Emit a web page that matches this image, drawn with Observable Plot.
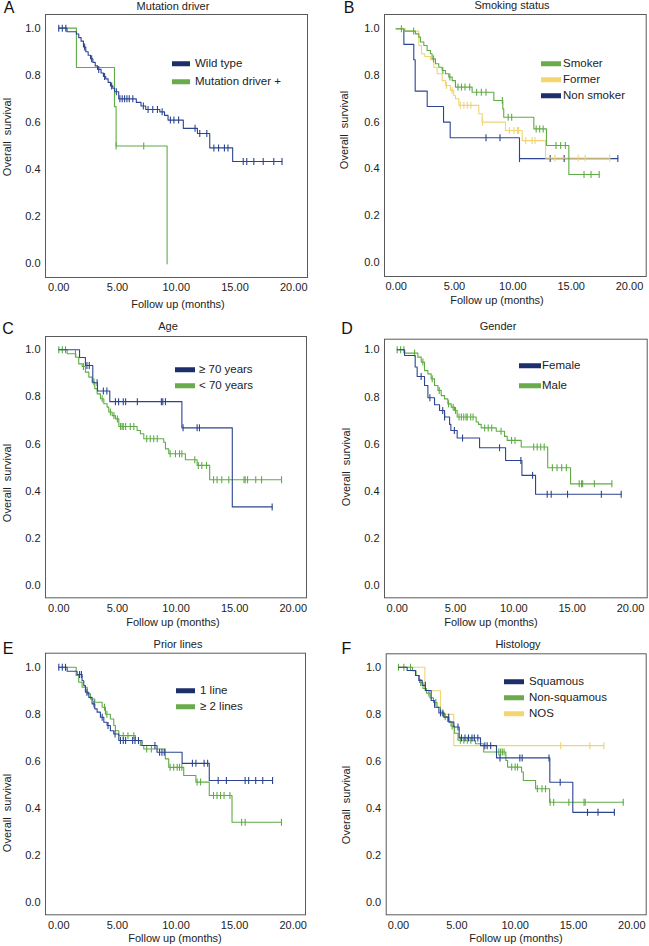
<!DOCTYPE html>
<html><head><meta charset="utf-8">
<script src="https://cdn.jsdelivr.net/npm/d3@7"></script>
<script src="https://cdn.jsdelivr.net/npm/@observablehq/plot@0.6"></script>
<style>
body{margin:0;background:#fff;}
#page{position:relative;width:649px;height:946px;overflow:hidden;font-family:"Liberation Sans",Arial,sans-serif;color:#222;background:#fff;}
.panel{position:absolute;}
.panel svg{position:absolute;left:0;top:0;}
.t{position:absolute;transform:translate(-50%,-50%);white-space:pre;line-height:1;font-size:11px;color:#222;}
.yl{transform:translate(-50%,-50%) rotate(-90deg);}
.letter{font-size:16px;color:#111;}
.leg{position:absolute;display:flex;align-items:center;white-space:pre;font-size:11.5px;line-height:1;transform:translateY(-50%);color:#222;}
.sw{display:inline-block;height:5px;}
</style></head><body><div id="page"></div>
<script>
// ---------- Tick labels ----------
const xTicks = [0, 5, 10, 15, 20];
const yTicks = [0, 0.2, 0.4, 0.6, 0.8, 1.0];

// ---------- A: Mutation driver ----------
const aWildT = [0, 0.7, 1.5, 1.7, 1.9, 2.1, 2.3, 2.5, 2.7, 2.9, 3.1, 3.3, 3.6, 3.8, 4.0, 4.2, 4.4, 4.6, 4.75, 5.1, 6.6, 7.0, 7.4, 8.6, 9.0, 9.3, 10.6, 11.8, 12.85, 14.8, 19.0];
const aWildS = [1, 0.985, 0.975, 0.96, 0.945, 0.92, 0.9, 0.885, 0.87, 0.855, 0.84, 0.825, 0.81, 0.795, 0.785, 0.77, 0.755, 0.745, 0.73, 0.70, 0.685, 0.67, 0.655, 0.645, 0.63, 0.61, 0.575, 0.553, 0.492, 0.434, 0.434];
const aWildCens = [0, 0.3, 0.6, 2.2, 2.8, 3.4, 3.9, 4.5, 4.9, 5.2, 5.4, 5.6, 5.8, 6.0, 6.3, 7.2, 7.6, 8.0, 8.4, 8.8, 9.5, 9.8, 10.2, 11.6, 12.0, 12.6, 13.2, 13.6, 14.1, 14.4, 15.7, 16.0, 16.6, 17.4, 18.3, 19.0];
const aMutT = [0, 1.5, 4.74, 4.88, 9.22];
const aMutS = [1, 0.833, 0.667, 0.5, 0];
const aMutCens = [4.88, 7.23];

// ---------- B: Smoking status ----------
const bSmokT = [0, 0.66, 1.65, 1.94, 2.08, 2.37, 2.65, 2.94, 3.08, 3.37, 3.65, 3.94, 4.23, 4.51, 4.8, 5.08, 6.51, 8.37, 9.14, 9.22, 11.8, 12.88, 14.8, 17.4];
const bSmokS = [1, 0.99, 0.978, 0.964, 0.943, 0.928, 0.907, 0.893, 0.871, 0.85, 0.835, 0.821, 0.807, 0.793, 0.778, 0.75, 0.728, 0.693, 0.657, 0.621, 0.571, 0.50, 0.376, 0.376];
const bSmokCens = [0.45, 1.5, 3.2, 4.0, 4.6, 5.3, 5.6, 5.9, 6.3, 6.9, 7.3, 7.7, 9.1, 9.6, 9.9, 12.0, 12.3, 12.6, 13.7, 14.1, 14.5, 16.1, 16.7, 17.4];
const bFormT = [0, 0.8, 1.94, 2.17, 2.45, 2.94, 3.23, 3.51, 3.94, 4.23, 4.65, 4.94, 5.08, 5.37, 7.08, 7.37, 9.37, 10.8, 12.8, 18.3];
const bFormS = [1, 0.99, 0.928, 0.893, 0.881, 0.867, 0.835, 0.807, 0.778, 0.757, 0.736, 0.714, 0.70, 0.672, 0.636, 0.60, 0.564, 0.521, 0.446, 0.446];
const bFormCens = [4.3, 4.8, 5.5, 5.8, 6.1, 6.4, 7.4, 9.7, 10.1, 10.4, 10.5, 11.1, 11.65, 11.9, 13.6, 15.6, 16.2, 18.3];
const bNonT = [0, 0.66, 1.51, 1.63, 2.66, 4.06, 4.63, 10.57, 19.0];
const bNonS = [1, 0.933, 0.867, 0.733, 0.667, 0.60, 0.533, 0.444, 0.444];
const bNonCens = [7.7, 8.9, 10.57, 13.2, 14.4, 19.0];

// ---------- C: Age ----------
const cOldT = [0, 1.77, 2.27, 2.9, 3.3, 4.35, 10.5, 14.8, 18.2];
const cOldS = [1, 0.967, 0.933, 0.86, 0.825, 0.78, 0.669, 0.334, 0.334];
const cOldCens = [2.4, 2.6, 3.27, 3.8, 4.1, 4.83, 5.1, 5.5, 5.7, 6.7, 8.75, 8.87, 9.1, 10.6, 11.8, 12.0, 18.2];
const cYoungT = [0, 0.71, 1.45, 1.7, 1.99, 2.27, 2.56, 2.84, 3.07, 3.27, 3.55, 3.84, 4.12, 4.26, 4.55, 4.83, 5.12, 6.68, 6.96, 7.25, 8.95, 9.1, 9.38, 10.8, 11.8, 12.87, 19.0];
const cYoungS = [1, 0.983, 0.968, 0.94, 0.929, 0.905, 0.884, 0.863, 0.835, 0.813, 0.792, 0.771, 0.757, 0.736, 0.721, 0.707, 0.675, 0.658, 0.644, 0.623, 0.608, 0.58, 0.559, 0.534, 0.51, 0.449, 0.449];
const cYoungCens = [0, 0.3, 0.57, 1.42, 2.1, 3.0, 3.7, 4.4, 4.7, 5.0, 5.26, 5.4, 5.5, 5.7, 6.1, 6.4, 7.5, 7.8, 8.1, 8.4, 9.5, 9.95, 10.3, 10.5, 11.6, 11.9, 12.2, 12.6, 13.2, 13.5, 13.9, 14.5, 15.8, 15.9, 16.1, 16.8, 17.3, 19.0];

// ---------- D: Gender ----------
const dFemT = [0, 0.63, 1.54, 1.71, 2.34, 2.63, 3.2, 3.63, 4.06, 4.49, 4.6, 5.14, 7.06, 9.29, 10.69, 11.86, 19.2];
const dFemS = [1, 0.976, 0.927, 0.887, 0.849, 0.797, 0.767, 0.743, 0.715, 0.684, 0.658, 0.626, 0.585, 0.531, 0.468, 0.388, 0.388];
const dFemCens = [2.05, 2.8, 3.9, 4.06, 4.9, 5.6, 8.77, 10.6, 11.6, 12.86, 13.2, 14.6, 17.5, 19.2];
const dMaleT = [0, 0.63, 1.77, 2.06, 2.34, 2.63, 2.91, 3.2, 3.49, 3.77, 4.06, 4.34, 4.63, 4.91, 5.14, 6.77, 6.97, 7.2, 8.49, 9.2, 9.43, 10.63, 12.9, 14.86, 18.4];
const dMaleS = [1, 0.986, 0.969, 0.948, 0.912, 0.898, 0.877, 0.849, 0.828, 0.806, 0.792, 0.771, 0.757, 0.743, 0.715, 0.694, 0.684, 0.669, 0.655, 0.633, 0.616, 0.588, 0.50, 0.432, 0.432];
const dMaleCens = [0, 0.29, 0.57, 1.49, 2.2, 3.0, 3.6, 4.4, 4.8, 5.0, 5.3, 5.5, 5.7, 5.9, 6.0, 6.3, 6.5, 7.5, 7.8, 8.1, 8.9, 9.8, 10.1, 11.7, 12.0, 12.3, 12.6, 13.3, 13.7, 14.1, 14.5, 15.6, 15.8, 15.9, 16.9, 18.4];

// ---------- E: Prior lines ----------
const eOneT = [0, 0.71, 1.56, 1.99, 2.13, 2.27, 2.56, 2.84, 3.07, 3.27, 3.55, 3.84, 4.12, 4.4, 4.69, 5.12, 7.1, 8.38, 10.52, 12.84, 18.24];
const eOneS = [1, 0.983, 0.969, 0.943, 0.922, 0.894, 0.872, 0.844, 0.823, 0.809, 0.787, 0.766, 0.752, 0.73, 0.716, 0.688, 0.667, 0.638, 0.591, 0.518, 0.518];
const eOneCens = [0, 0.3, 0.57, 1.77, 1.93, 2.4, 3.0, 3.7, 4.2, 4.8, 5.26, 5.5, 5.7, 6.3, 6.5, 6.8, 8.2, 8.6, 8.8, 9.0, 11.4, 11.7, 12.4, 12.7, 13.6, 14.3, 15.9, 16.2, 16.8, 17.4, 18.24];
const eTwoT = [0, 1.48, 1.7, 1.99, 2.42, 2.7, 3.07, 3.7, 3.98, 4.4, 4.69, 4.83, 5.12, 6.54, 6.96, 7.25, 9.09, 9.38, 10.66, 11.7, 12.84, 14.78, 19.0];
const eTwoS = [1, 0.965, 0.936, 0.915, 0.887, 0.865, 0.851, 0.83, 0.80, 0.78, 0.752, 0.73, 0.709, 0.688, 0.667, 0.652, 0.61, 0.574, 0.539, 0.511, 0.454, 0.34, 0.34];
const eTwoCens = [3.9, 4.1, 5.5, 5.9, 6.4, 7.5, 7.9, 9.5, 9.8, 10.1, 10.3, 10.5, 11.8, 12.1, 13.2, 13.5, 13.8, 14.1, 14.6, 15.6, 15.9, 19.0];

// ---------- F: Histology ----------
const fSqT = [0, 0.74, 1.46, 1.74, 2.03, 2.31, 2.8, 3.09, 3.46, 3.89, 4.31, 4.74, 5.2, 7.03, 8.4, 12.97, 14.94, 18.5];
const fSqS = [1, 0.986, 0.965, 0.944, 0.923, 0.901, 0.859, 0.83, 0.806, 0.788, 0.767, 0.746, 0.70, 0.667, 0.615, 0.512, 0.384, 0.384];
const fSqCens = [2.3, 3.6, 3.8, 4.3, 5.1, 5.4, 5.7, 6.0, 6.3, 6.5, 6.8, 7.4, 7.6, 7.9, 8.7, 10.4, 10.6, 12.9, 13.86, 16.2, 17.1, 18.5];
const fNonT = [0, 1.2, 1.5, 1.8, 2.1, 2.4, 2.7, 3.0, 3.3, 3.6, 3.9, 4.2, 4.5, 4.8, 5.1, 6.6, 7.3, 9.2, 9.35, 10.55, 10.7, 11.75, 12.95, 19.26];
const fNonS = [1, 0.985, 0.965, 0.935, 0.91, 0.89, 0.87, 0.85, 0.83, 0.81, 0.79, 0.77, 0.75, 0.72, 0.69, 0.675, 0.64, 0.604, 0.576, 0.555, 0.519, 0.484, 0.427, 0.427];
const fNonCens = [0, 0.46, 1.03, 1.9, 2.6, 3.2, 4.0, 4.6, 5.3, 5.6, 5.9, 6.2, 8.6, 8.75, 8.9, 9.05, 9.7, 10.0, 10.2, 11.9, 12.3, 12.6, 13.0, 13.3, 14.6, 15.9, 16.0, 19.26];
const fNosT = [0, 2.26, 3.6, 4.74, 17.6];
const fNosS = [1, 0.9, 0.8, 0.667, 0.667];
const fNosCens = [13.9, 16.4, 17.6];

// ---------- styling ----------
const NAVY = "#2b4592", GREEN = "#5fac45", YELLOW = "#f0d475";
const SW_NAVY = "#1d2f6b", SW_GREEN = "#6aab4b", SW_YELLOW = "#f5d66d";
const FONT = '"Liberation Sans", Arial, sans-serif';

const panels = [
  {letter:"A", title:"Mutation driver", left:0, top:0, w:324, h:310, mL:45, mR:17, mT:14, mB:33,
   xd:[-1.13, 21.17], yd:[-0.058, 1.058], letterPos:[9,8], titlePos:[173,6], ylab:[7,137], xlab:[178,304],
   leg:{x0:172, x1:190, lx:195, y:64, gap:18},
   curves:[
     {name:"Wild type", T:aWildT, S:aWildS, C:aWildCens, color:NAVY, sw:SW_NAVY},
     {name:"Mutation driver +", T:aMutT, S:aMutS, C:aMutCens, color:GREEN, sw:SW_GREEN}]},
  {letter:"B", title:"Smoking status", left:324, top:0, w:325, h:310, mL:60, mR:3.3, mT:14, mB:34,
   xd:[-1.0, 21.43], yd:[-0.061, 1.061], letterPos:[25,8], titlePos:[188,5], ylab:[20,130], xlab:[173,300],
   leg:{x0:217, x1:237, lx:239, y:64, gap:16},
   curves:[
     {name:"Smoker", T:bSmokT, S:bSmokS, C:bSmokCens, color:GREEN, sw:SW_GREEN},
     {name:"Former", T:bFormT, S:bFormS, C:bFormCens, color:YELLOW, sw:SW_YELLOW},
     {name:"Non smoker", T:bNonT, S:bNonS, C:bNonCens, color:NAVY, sw:SW_NAVY}]},
  {letter:"C", title:"Age", left:0, top:310, w:324, h:315, mL:45, mR:18, mT:26, mB:27.7,
   xd:[-1.135, 21.13], yd:[-0.051, 1.056], letterPos:[8,19], titlePos:[168,16], ylab:[7,173], xlab:[173,312],
   leg:{x0:175, x1:195, lx:199, y:60, gap:16},
   curves:[
     {name:"≥ 70 years", T:cOldT, S:cOldS, C:cOldCens, color:NAVY, sw:SW_NAVY},
     {name:"< 70 years", T:cYoungT, S:cYoungS, C:cYoungCens, color:GREEN, sw:SW_GREEN}]},
  {letter:"D", title:"Gender", left:324, top:310, w:325, h:315, mL:60, mR:2.3, mT:28.7, mB:27.7,
   xd:[-1.09, 21.43], yd:[-0.051, 1.045], letterPos:[23,19], titlePos:[174,16], ylab:[22,157], xlab:[167,312],
   leg:{x0:195, x1:217, lx:218, y:56, gap:20},
   curves:[
     {name:"Female", T:dFemT, S:dFemS, C:dFemCens, color:NAVY, sw:SW_NAVY},
     {name:"Male", T:dMaleT, S:dMaleS, C:dMaleCens, color:GREEN, sw:SW_GREEN}]},
  {letter:"E", title:"Prior lines", left:0, top:625, w:324, h:321, mL:45, mR:19, mT:27.7, mB:31.7,
   xd:[-1.135, 21.05], yd:[-0.054, 1.06], letterPos:[8,24], titlePos:[178,19], ylab:[7,188], xlab:[175,313],
   leg:{x0:176, x1:195, lx:200, y:66, gap:16},
   curves:[
     {name:"1 line", T:eOneT, S:eOneS, C:eOneCens, color:NAVY, sw:SW_NAVY},
     {name:"≥ 2 lines", T:eTwoT, S:eTwoS, C:eTwoCens, color:GREEN, sw:SW_GREEN}]},
  {letter:"F", title:"Histology", left:324, top:625, w:325, h:321, mL:61.7, mR:3.3, mT:28.3, mB:31.7,
   xd:[-1.054, 21.23], yd:[-0.051, 1.057], letterPos:[22.5,23.5], titlePos:[194,19], ylab:[22,180], xlab:[192,313],
   leg:{x0:180, x1:200, lx:205, y:57, gap:16},
   curves:[
     {name:"Squamous", T:fSqT, S:fSqS, C:fSqCens, color:NAVY, sw:SW_NAVY},
     {name:"Non-squamous", T:fNonT, S:fNonS, C:fNonCens, color:GREEN, sw:SW_GREEN},
     {name:"NOS", T:fNosT, S:fNosS, C:fNosCens, color:YELLOW, sw:SW_YELLOW}]}
];

function survAt(T, S, t) {
  let s = S[0];
  for (let i = 0; i < T.length; i++) if (T[i] <= t) s = S[i];
  return s;
}
const censorSymbol = {draw(ctx) { ctx.moveTo(0, -3.5); ctx.lineTo(0, 3.5); }};

const page = document.getElementById("page");
function addText(parent, txt, x, y, cls) {
  const d = document.createElement("div");
  d.className = "t " + (cls || "");
  d.textContent = txt;
  d.style.left = x + "px"; d.style.top = y + "px";
  parent.appendChild(d);
}

for (const p of panels) {
  const div = document.createElement("div");
  div.className = "panel";
  div.style.left = p.left + "px"; div.style.top = p.top + "px";
  div.style.width = p.w + "px"; div.style.height = p.h + "px";
  page.appendChild(div);

  const marks = [
    Plot.frame({stroke: "#5a5a5a", strokeWidth: 1}),
    Plot.axisX({ticks: xTicks, tickFormat: d => d.toFixed(2), tickSize: 0, tickPadding: 6, label: null}),
    Plot.axisY({ticks: yTicks, tickFormat: d => d.toFixed(1), tickSize: 0, tickPadding: 5, label: null})
  ];
  const drawOrder = p.curves.slice().reverse();
  for (const c of drawOrder) {
    const steps = c.T.map((t, i) => ({t, s: c.S[i]}));
    const cens = c.C.map(t => ({t, s: survAt(c.T, c.S, t)}));
    marks.push(Plot.line(steps, {x: "t", y: "s", curve: "step-after", stroke: c.color, strokeWidth: 1.1}));
    marks.push(Plot.dot(cens, {x: "t", y: "s", symbol: censorSymbol, stroke: c.color, fill: "none", strokeWidth: 1.1}));
  }
  const svg = Plot.plot({
    width: p.w, height: p.h,
    marginLeft: p.mL, marginRight: p.mR, marginTop: p.mT, marginBottom: p.mB,
    x: {domain: p.xd, nice: false},
    y: {domain: p.yd, nice: false},
    style: {fontFamily: FONT, fontSize: "11px", color: "#222", background: "transparent", overflow: "visible"},
    marks
  });
  div.appendChild(svg);

  addText(div, p.letter, p.letterPos[0], p.letterPos[1], "letter");
  addText(div, p.title, p.titlePos[0], p.titlePos[1]);
  addText(div, "Overall  survival", p.ylab[0], p.ylab[1], "yl");
  addText(div, "Follow up (months)", p.xlab[0], p.xlab[1]);

  p.curves.forEach((c, i) => {
    const item = document.createElement("div");
    item.className = "leg";
    item.style.left = p.leg.x0 + "px";
    item.style.top = (p.leg.y + i * p.leg.gap) + "px";
    const sw = document.createElement("span");
    sw.className = "sw";
    sw.style.width = (p.leg.x1 - p.leg.x0) + "px";
    sw.style.background = c.sw;
    sw.style.marginRight = (p.leg.lx - p.leg.x1) + "px";
    const lab = document.createElement("span");
    lab.textContent = c.name;
    item.appendChild(sw); item.appendChild(lab);
    div.appendChild(item);
  });
}
</script>
</body></html>
